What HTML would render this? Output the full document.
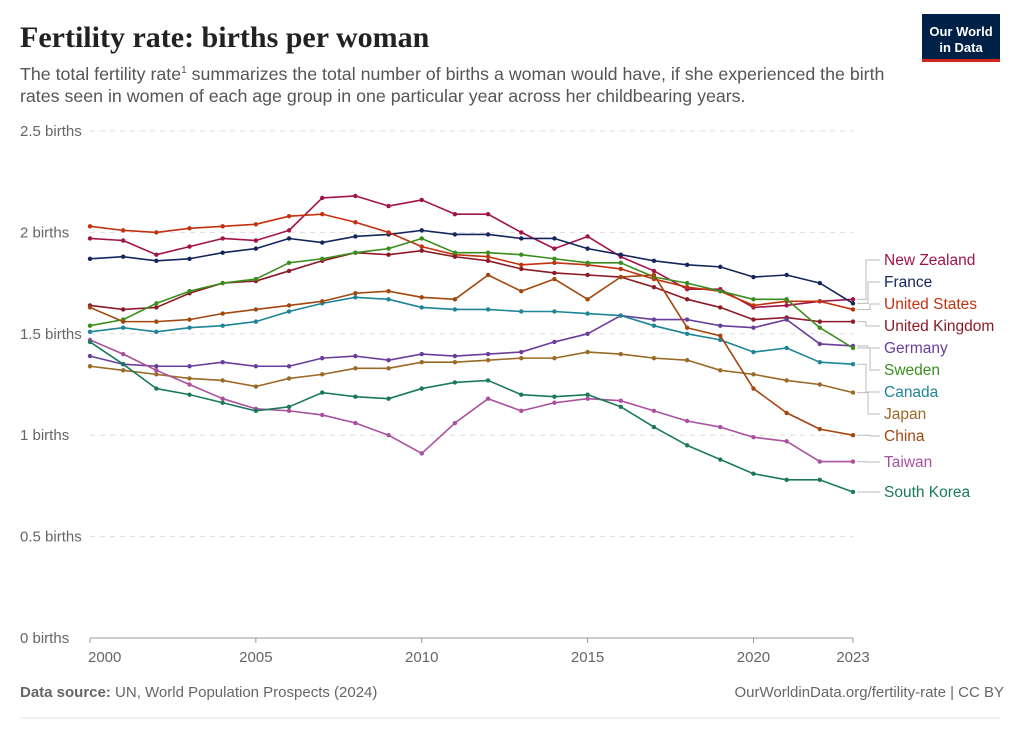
<!DOCTYPE html>
<html><head><meta charset="utf-8"><style>
body{margin:0;background:#fff;font-family:"Liberation Sans",sans-serif;}
#wrap{position:relative;width:1020px;height:732px;overflow:hidden;}
</style></head><body>
<div id="wrap">
<svg id="svg" width="1020" height="732" xmlns="http://www.w3.org/2000/svg">
<text x="20" y="47" font-family="Liberation Serif" font-size="30" font-weight="bold" fill="#222">Fertility rate: births per woman</text>
<text x="20" y="80" font-size="17.8" fill="#555">The total fertility rate<tspan font-size="10" dy="-7">1</tspan><tspan dy="7"> summarizes the total number of births a woman would have, if she experienced the birth</tspan></text>
<text x="20" y="102" font-size="17.8" fill="#555">rates seen in women of each age group in one particular year across her childbearing years.</text>
<g>
<rect x="922" y="14" width="78" height="48" fill="#002147"/>
<rect x="922" y="59" width="78" height="3" fill="#ce261e"/>
<text x="961" y="36" font-size="13" font-weight="bold" fill="#fff" text-anchor="middle">Our World</text>
<text x="961" y="52" font-size="13" font-weight="bold" fill="#fff" text-anchor="middle">in Data</text>
</g>
<g id="axes"></g>
<g id="series"></g>
<g id="labels"></g>
<text x="20" y="697" font-size="15" fill="#666"><tspan font-weight="bold">Data source:</tspan> UN, World Population Prospects (2024)</text>
<text x="1004" y="697" font-size="15" fill="#666" text-anchor="end">OurWorldinData.org/fertility-rate | CC BY</text>
<line x1="20" y1="718" x2="1000" y2="718" stroke="#e5e5e5"/>
</svg>
</div>
<script>
const years=[2000,2001,2002,2003,2004,2005,2006,2007,2008,2009,2010,2011,2012,2013,2014,2015,2016,2017,2018,2019,2020,2021,2022,2023];
const yTicks=[0,0.5,1,1.5,2,2.5];
const yTickLabels=["0 births","0.5 births","1 births","1.5 births","2 births","2.5 births"];
const xTicks=[2000,2005,2010,2015,2020,2023];
const countries=["New Zealand","France","United States","United Kingdom","Germany","Sweden","Canada","Japan","China","Taiwan","South Korea"];
const colors=["#a2134a","#14265c","#c2320f","#8d1a26","#6b3d9a","#3a8e1f","#1d8597","#9a6a26","#a2470f","#a9509f","#1b7a5b"];
const labelY=[260,282,304,326,348,370,392,414,436,462,492];
const newZealand=[1.97,1.96,1.89,1.93,1.97,1.96,2.01,2.17,2.18,2.13,2.16,2.09,2.09,2.00,1.92,1.98,1.88,1.81,1.72,1.72,1.63,1.64,1.66,1.67];
const france=[1.87,1.88,1.86,1.87,1.90,1.92,1.97,1.95,1.98,1.99,2.01,1.99,1.99,1.97,1.97,1.92,1.89,1.86,1.84,1.83,1.78,1.79,1.75,1.65];
const unitedStates=[2.03,2.01,2.00,2.02,2.03,2.04,2.08,2.09,2.05,2.00,1.93,1.89,1.88,1.84,1.85,1.84,1.82,1.77,1.73,1.71,1.64,1.66,1.66,1.62];
const unitedKingdom=[1.64,1.62,1.63,1.70,1.75,1.76,1.81,1.86,1.90,1.89,1.91,1.88,1.86,1.82,1.80,1.79,1.78,1.73,1.67,1.63,1.57,1.58,1.56,1.56];
const germany=[1.39,1.35,1.34,1.34,1.36,1.34,1.34,1.38,1.39,1.37,1.40,1.39,1.40,1.41,1.46,1.50,1.59,1.57,1.57,1.54,1.53,1.57,1.45,1.44];
const sweden=[1.54,1.57,1.65,1.71,1.75,1.77,1.85,1.87,1.90,1.92,1.97,1.90,1.90,1.89,1.87,1.85,1.85,1.78,1.75,1.71,1.67,1.67,1.53,1.43];
const canada=[1.51,1.53,1.51,1.53,1.54,1.56,1.61,1.65,1.68,1.67,1.63,1.62,1.62,1.61,1.61,1.60,1.59,1.54,1.50,1.47,1.41,1.43,1.36,1.35];
const japan=[1.34,1.32,1.30,1.28,1.27,1.24,1.28,1.30,1.33,1.33,1.36,1.36,1.37,1.38,1.38,1.41,1.40,1.38,1.37,1.32,1.30,1.27,1.25,1.21];
const china=[1.63,1.56,1.56,1.57,1.60,1.62,1.64,1.66,1.70,1.71,1.68,1.67,1.79,1.71,1.77,1.67,1.78,1.79,1.53,1.49,1.23,1.11,1.03,1.00];
const taiwan=[1.47,1.40,1.32,1.25,1.18,1.13,1.12,1.10,1.06,1.00,0.91,1.06,1.18,1.12,1.16,1.18,1.17,1.12,1.07,1.04,0.99,0.97,0.87,0.87];
const southKorea=[1.46,1.35,1.23,1.20,1.16,1.12,1.14,1.21,1.19,1.18,1.23,1.26,1.27,1.20,1.19,1.20,1.14,1.04,0.95,0.88,0.81,0.78,0.78,0.72];
const seriesData=[newZealand,france,unitedStates,unitedKingdom,germany,sweden,canada,japan,china,taiwan,southKorea];

const NS="http://www.w3.org/2000/svg";
const X0=90,X1=853,Y0=638,Y1=131;
const x=v=>X0+(v-2000)/(2023-2000)*(X1-X0);
const y=v=>Y0-v/2.5*(Y0-Y1);
function mk(tag,attrs,parent){const e=document.createElementNS(NS,tag);for(const k in attrs)e.setAttribute(k,attrs[k]);parent.appendChild(e);return e;}
const axes=document.getElementById('axes');
yTicks.forEach((t,i)=>{
  if(t>0){const g=mk('line',{x1:X0,x2:X1,y1:y(t),y2:y(t),stroke:'#ddd','stroke-dasharray':'5,5'},axes);
  
  }
  const tx=mk('text',{x:20,y:y(t)+5,'font-size':15,fill:'#666'},axes);
  tx.textContent=yTickLabels[i];
  
  
});
const ax=mk('line',{x1:X0,x2:X1,y1:Y0,y2:Y0,stroke:'#999'},axes);


xTicks.forEach((t,i)=>{
  const tk=mk('line',{x1:x(t),x2:x(t),y1:Y0,y2:Y0+5,stroke:'#999'},axes);
  
  
  const anchor=i===0?'start':'middle';
  const tx=mk('text',{x:i===0?x(t)-2:x(t),y:Y0+24,'font-size':15,fill:'#666','text-anchor':anchor},axes);
  tx.textContent=String(t);
  
  
});
const sg=document.getElementById('series'),lg=document.getElementById('labels');
seriesData.forEach((d,si)=>{
  const g=mk('g',{},sg);
  
  
  const pts=d.map((v,i)=>x(years[i])+','+y(v)).join(' ');
  const pl=mk('polyline',{points:pts,fill:'none',stroke:colors[si],'stroke-width':1.6,'stroke-linejoin':'round'},g);
  
  
  d.forEach((v,i)=>{const c=mk('circle',{cx:x(years[i]),cy:y(v),r:2.2,fill:colors[si]},g);
    
    });
  const ey=y(d[d.length-1]),ly=labelY[si];
  const ex=866+ (si%3)*2;
  const conn=mk('polyline',{points:`${X1+4},${ey} ${ex},${ey} ${ex},${ly} ${880},${ly}`,fill:'none',stroke:'#bbb','stroke-width':1},lg);
  
  
  const t=mk('text',{x:884,y:ly+5,'font-size':15.5,fill:colors[si]},lg);
  t.textContent=countries[si];
  
  
});
</script>
</body></html>
